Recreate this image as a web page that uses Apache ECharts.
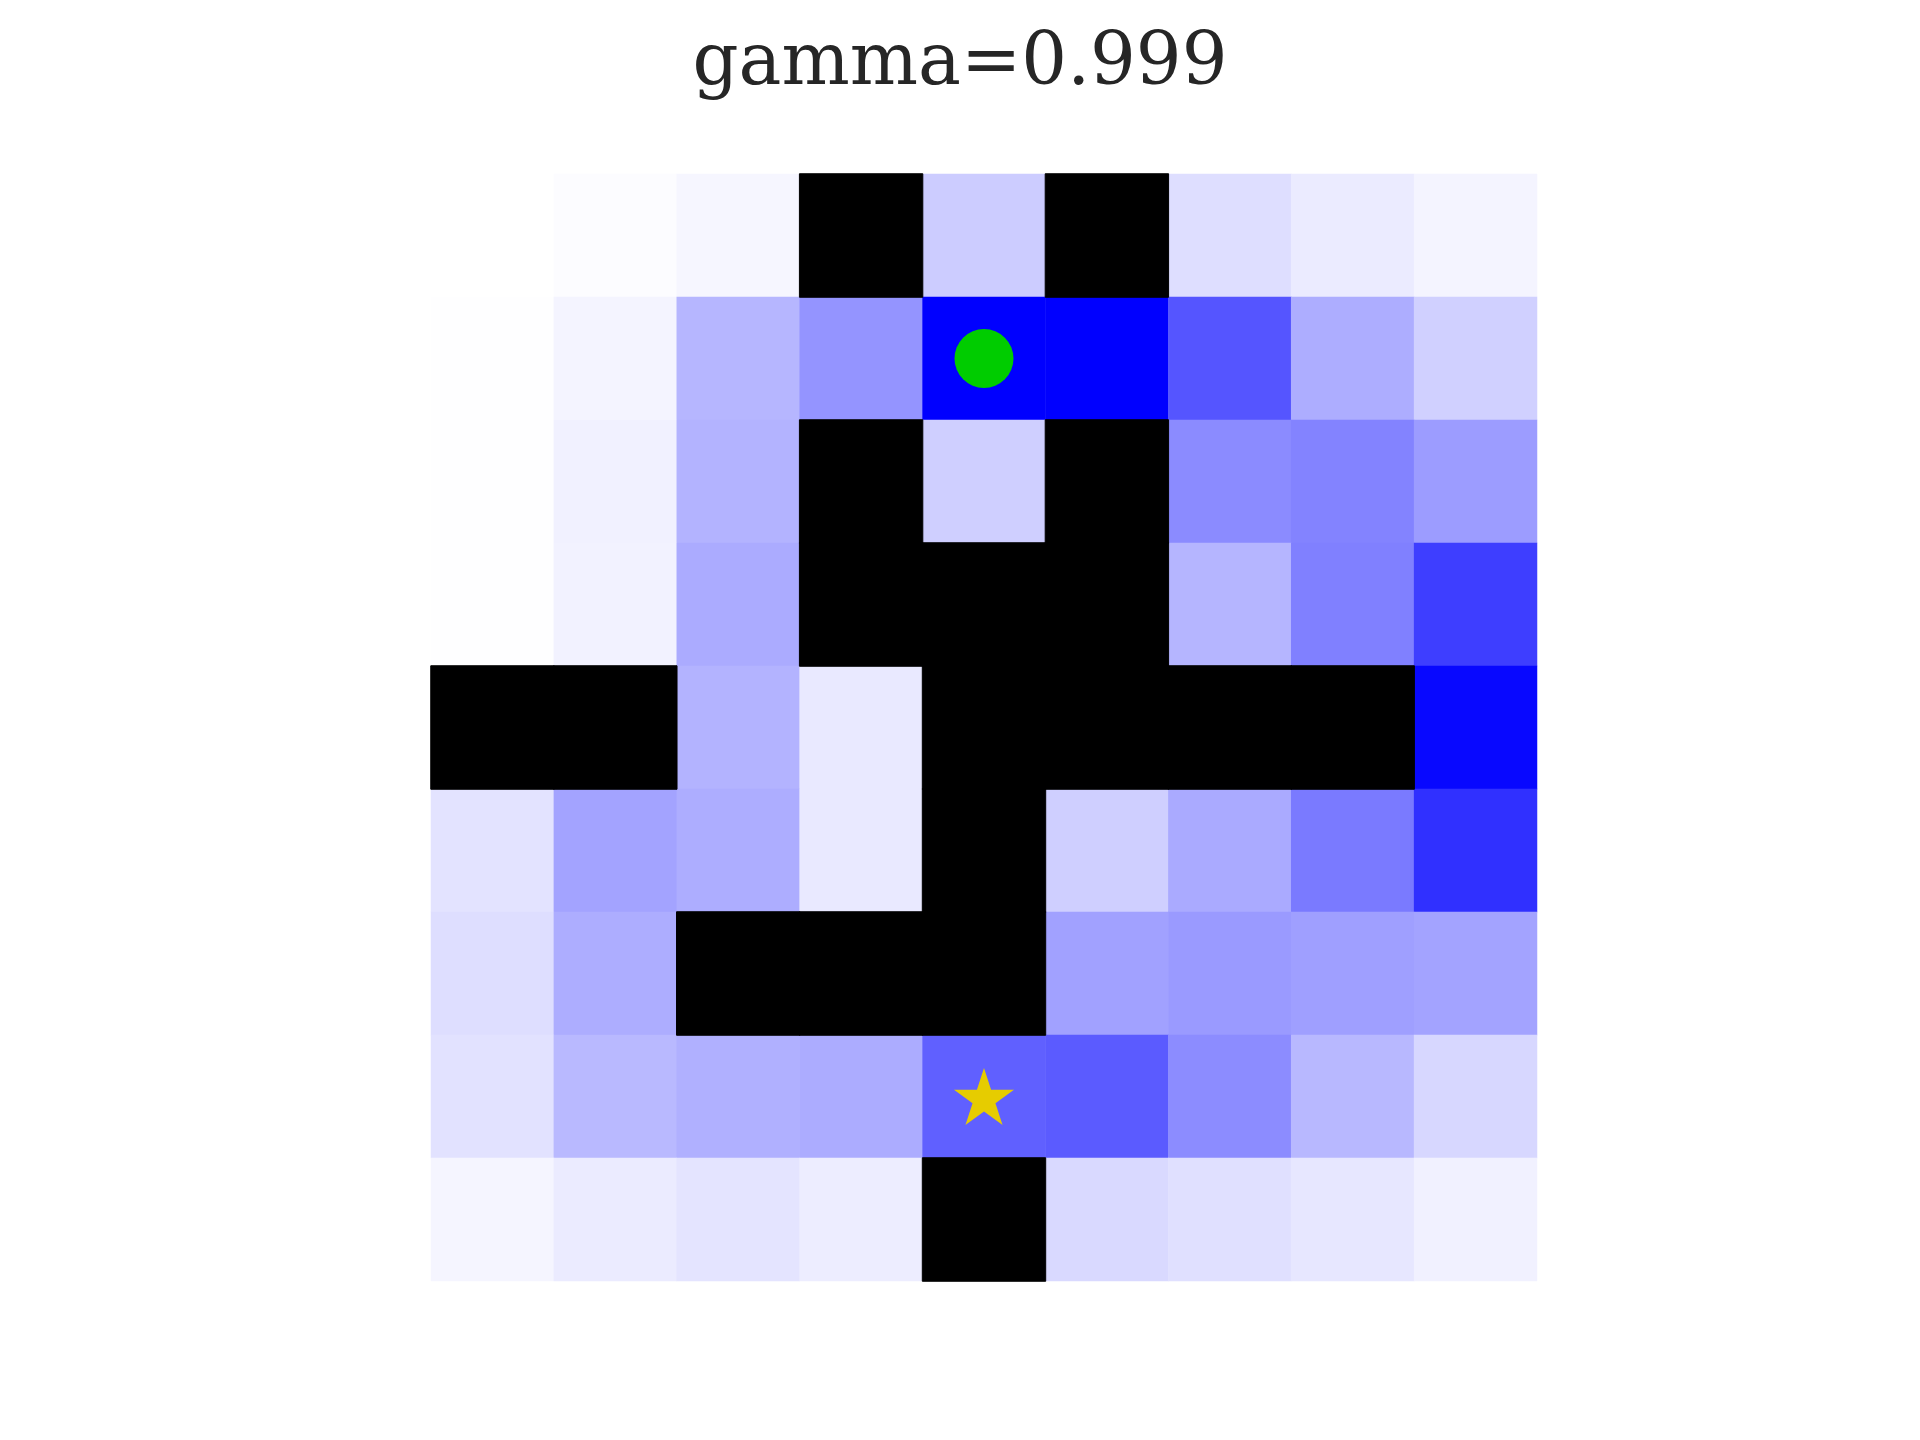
<!DOCTYPE html>
<html>
<head>
<meta charset="utf-8">
<script src="https://cdn.jsdelivr.net/npm/echarts@6/dist/echarts.min.js"></script>
<style>html,body{margin:0;padding:0;background:#fff;}#main{width:1920px;height:1440px;}</style>
</head>
<body>
<div id="main"></div>
<script>
// Value intensity per cell (row-major, top row first); null = wall
const rows = [0,1,2,3,4,5,6,7,8];
const cols = [0,1,2,3,4,5,6,7,8];
const values = [
  [0.000, 0.012, 0.035, null, 0.200, null, 0.130, 0.080, 0.045],
  [0.005, 0.045, 0.285, 0.420, 1.000, 1.000, 0.665, 0.320, 0.185],
  [0.005, 0.055, 0.300, null, 0.190, null, 0.455, 0.485, 0.390],
  [0.005, 0.050, 0.330, null, null, null, 0.290, 0.500, 0.755],
  [null, null, 0.300, 0.085, null, null, null, null, 0.970],
  [0.110, 0.360, 0.320, 0.085, null, 0.190, 0.335, 0.520, 0.810],
  [0.130, 0.320, null, null, null, 0.370, 0.395, 0.375, 0.360],
  [0.115, 0.275, 0.310, 0.325, 0.625, 0.645, 0.450, 0.280, 0.155],
  [0.040, 0.080, 0.105, 0.070, null, 0.150, 0.120, 0.095, 0.055]
];
const agent = [4, 1];   // [col, row]
const goal = [4, 7];    // [col, row]
const titleText = 'gamma=0.999';

const cellData = [];
const wallData = [];
values.forEach((r, ri) => r.forEach((v, ci) => {
  if (v === null) wallData.push([ci, ri, 1]);
  else cellData.push([ci, ri, v]);
}));

const starPath = 'path://M50 0 L61.23 34.55 L97.55 34.55 L68.16 55.9 L79.39 90.45 L50 69.1 L20.61 90.45 L31.84 55.9 L2.45 34.55 L38.77 34.55 Z';

const chart = echarts.init(document.getElementById('main'));
chart.setOption({
  backgroundColor: '#ffffff',
  animation: false,
  title: {
    text: titleText,
    left: 'center',
    top: 24,
    textStyle: { fontFamily: 'DejaVu Serif', fontSize: 72, fontWeight: 'normal', color: '#262626' }
  },
  grid: { left: 431, top: 174, width: 1106, height: 1107 },
  xAxis: { type: 'category', data: cols, show: false, boundaryGap: true },
  yAxis: { type: 'category', data: rows, inverse: true, show: false, boundaryGap: true },
  visualMap: [{
    type: 'continuous', show: false, min: 0, max: 1, seriesIndex: 0,
    inRange: { color: ['#ffffff', '#0000ff'] }
  }, {
    type: 'continuous', show: false, min: 0, max: 1, seriesIndex: 1,
    inRange: { color: ['#000000', '#000000'] }
  }],
  series: [
    { type: 'heatmap', data: cellData, itemStyle: { borderWidth: 0 }, emphasis: { disabled: true } },
    { type: 'heatmap', data: wallData, itemStyle: { color: '#000000', borderColor: '#000000', borderWidth: 1 }, emphasis: { disabled: true } },
    { type: 'scatter', data: [agent], symbol: 'circle', symbolSize: 59, itemStyle: { color: '#00CC00', opacity: 1 }, emphasis: { disabled: true }, z: 5 },
    { type: 'scatter', data: [goal], symbol: starPath, symbolSize: [60, 57], itemStyle: { color: '#E6CC00', opacity: 1 }, emphasis: { disabled: true }, z: 5 }
  ]
});
</script>
</body>
</html>
